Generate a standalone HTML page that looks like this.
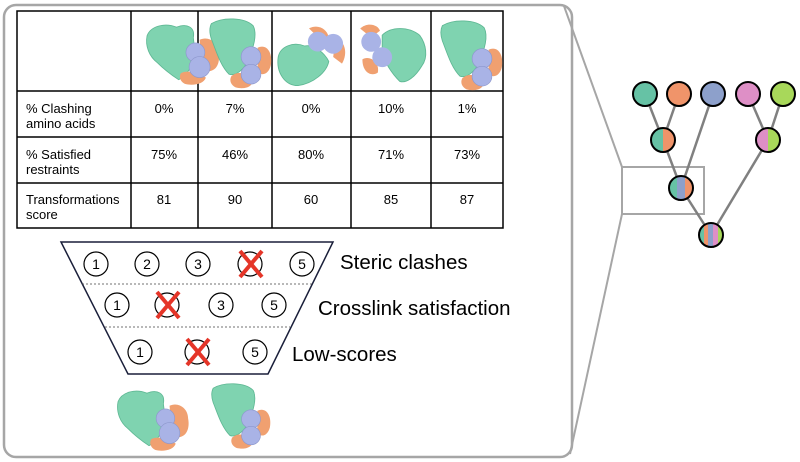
<!DOCTYPE html>
<html><head><meta charset="utf-8"><style>
html,body{margin:0;padding:0;background:#fff;}
svg{display:block;font-family:"Liberation Sans",Arial,sans-serif;}
</style></head><body>
<svg width="800" height="462" viewBox="0 0 800 462" xmlns="http://www.w3.org/2000/svg">
<defs>
<g id="pA">
 <path d="M2,12 C6,2 20,0 30,4 C40,0 48,4 46,14 L48,30 C46,40 40,50 32,54 C26,50 18,44 12,38 C4,32 0,22 2,12Z" fill="#7fd3b0" stroke="#5fb894" stroke-width="0.8"/>
 <path d="M52,16 C60,12 70,18 70,28 C72,38 68,46 60,46 L54,40Z" fill="#f0a070"/>
 <path d="M34,48 C40,44 52,48 58,52 C56,58 46,60 38,58 C34,56 32,52 34,48Z" fill="#f0a070"/>
 <circle cx="48" cy="28" r="9" fill="#a9b3e6" stroke="#8d97cc" stroke-width="0.6"/>
 <circle cx="52" cy="42" r="10" fill="#a9b3e6" stroke="#8d97cc" stroke-width="0.6"/>
</g>
<g id="pB">
 <path d="M4,6 C14,0 34,0 42,8 C46,16 42,28 38,38 C34,48 26,54 20,52 C12,44 8,30 4,20 C2,14 2,10 4,6Z" fill="#7fd3b0" stroke="#5fb894" stroke-width="0.8"/>
 <path d="M46,28 C54,24 60,32 58,44 C56,52 50,54 46,50Z" fill="#f0a070"/>
 <path d="M22,54 C28,48 38,52 42,56 C42,64 34,66 26,64 C22,62 20,58 22,54Z" fill="#f0a070"/>
 <circle cx="40" cy="36" r="9" fill="#a9b3e6" stroke="#8d97cc" stroke-width="0.6"/>
 <circle cx="40" cy="52" r="9" fill="#a9b3e6" stroke="#8d97cc" stroke-width="0.6"/>
</g>
</defs>

<rect x="4" y="5" width="568" height="452" rx="12" fill="none" stroke="#a6a6a6" stroke-width="2.5"/>
<line x1="564" y1="6" x2="622" y2="167" stroke="#a6a6a6" stroke-width="2"/>
<line x1="570" y1="454" x2="622" y2="214" stroke="#a6a6a6" stroke-width="2"/>

<g stroke="#000" stroke-width="1.5" fill="none">
 <rect x="17" y="11" width="486" height="217"/>
 <line x1="131" y1="11" x2="131" y2="228"/>
 <line x1="198" y1="11" x2="198" y2="228"/>
 <line x1="272" y1="11" x2="272" y2="228"/>
 <line x1="351" y1="11" x2="351" y2="228"/>
 <line x1="431" y1="11" x2="431" y2="228"/>
 <line x1="17" y1="91" x2="503" y2="91"/>
 <line x1="17" y1="137" x2="503" y2="137"/>
 <line x1="17" y1="183" x2="503" y2="183"/>
</g>
<use href="#pA" transform="translate(145,23) scale(1.05)"/>
<use href="#pB" transform="translate(207,17) scale(1.1)"/>
<g transform="translate(276,24) scale(1.1)">
 <path d="M2,30 C4,20 16,16 26,20 C34,18 44,26 48,34 C46,44 34,54 20,56 C8,56 0,44 2,30Z" fill="#7fd3b0" stroke="#5fb894" stroke-width="0.8"/>
 <path d="M30,4 C38,0 46,4 48,12 L40,14Z" fill="#f0a070"/>
 <path d="M54,14 C62,14 66,26 60,36 L52,30Z" fill="#f0a070"/>
 <circle cx="38" cy="16" r="9" fill="#a9b3e6"/><circle cx="52" cy="18" r="9" fill="#a9b3e6"/>
</g>
<g transform="translate(358,22) scale(1.1)">
 <path d="M22,12 C30,4 46,4 56,12 C62,20 64,32 58,40 C52,50 44,56 38,54 C30,46 24,36 22,28Z" fill="#7fd3b0" stroke="#5fb894" stroke-width="0.8"/>
 <path d="M2,6 C8,0 18,2 20,8 L12,14Z" fill="#f0a070"/>
 <path d="M4,34 C10,30 20,36 18,46 C12,50 4,46 4,34Z" fill="#f0a070"/>
 <circle cx="12" cy="18" r="9" fill="#a9b3e6"/><circle cx="22" cy="32" r="9" fill="#a9b3e6"/>
</g>
<use href="#pB" transform="translate(438,19) scale(1.1)"/>

<g font-size="13" fill="#000">
 <text x="26" y="113">% Clashing</text><text x="26" y="128">amino acids</text>
 <text x="26" y="159">% Satisfied</text><text x="26" y="174">restraints</text>
 <text x="26" y="204">Transformations</text><text x="26" y="219">score</text>
 <g text-anchor="middle">
  <text x="164" y="113">0%</text><text x="235" y="113">7%</text><text x="311" y="113">0%</text><text x="391" y="113">10%</text><text x="467" y="113">1%</text>
  <text x="164" y="159">75%</text><text x="235" y="159">46%</text><text x="311" y="159">80%</text><text x="391" y="159">71%</text><text x="467" y="159">73%</text>
  <text x="164" y="204">81</text><text x="235" y="204">90</text><text x="311" y="204">60</text><text x="391" y="204">85</text><text x="467" y="204">87</text>
 </g>
</g>

<path d="M61,242 L333,242 L268,374 L128,374 Z" fill="none" stroke="#1a1f3a" stroke-width="1.5"/>
<line x1="82" y1="284" x2="312" y2="284" stroke="#444" stroke-width="0.8" stroke-dasharray="2,2"/>
<line x1="105" y1="327" x2="290" y2="327" stroke="#444" stroke-width="0.8" stroke-dasharray="2,2"/>
<g fill="none" stroke="#000" stroke-width="1.2">
 <circle cx="96" cy="264" r="12"/><circle cx="147" cy="264" r="12"/><circle cx="198" cy="264" r="12"/><circle cx="250" cy="264" r="12"/><circle cx="302" cy="264" r="12"/>
 <circle cx="117" cy="305" r="12"/><circle cx="167" cy="305" r="12"/><circle cx="221" cy="305" r="12"/><circle cx="274" cy="305" r="12"/>
 <circle cx="140" cy="352" r="12"/><circle cx="197" cy="352" r="12"/><circle cx="255" cy="352" r="12"/>
</g>
<g font-size="14" text-anchor="middle" fill="#000">
 <text x="96" y="269">1</text><text x="147" y="269">2</text><text x="198" y="269">3</text><text x="302" y="269">5</text>
 <text x="117" y="310">1</text><text x="221" y="310">3</text><text x="274" y="310">5</text>
 <text x="140" y="357">1</text><text x="255" y="357">5</text>
</g>
<g stroke="#e53528" stroke-width="4">
 <line x1="240" y1="251" x2="262" y2="277"/><line x1="262" y1="251" x2="240" y2="277"/>
 <line x1="157" y1="292" x2="179" y2="318"/><line x1="179" y1="292" x2="157" y2="318"/>
 <line x1="187" y1="339" x2="209" y2="365"/><line x1="209" y1="339" x2="187" y2="365"/>
</g>
<g font-size="20.5" fill="#000">
 <text x="340" y="269">Steric clashes</text>
 <text x="318" y="315">Crosslink satisfaction</text>
 <text x="292" y="361">Low-scores</text>
</g>
<use href="#pA" transform="translate(116,389) scale(1.03,1.05)"/>
<use href="#pB" transform="translate(209,382) scale(1.05,1.03)"/>

<rect x="622" y="167" width="82" height="47" fill="none" stroke="#a6a6a6" stroke-width="2"/>
<g stroke="#808080" stroke-width="2.5">
 <line x1="645" y1="94" x2="663" y2="140"/><line x1="679" y1="94" x2="663" y2="140"/>
 <line x1="713" y1="94" x2="681" y2="188"/><line x1="663" y1="140" x2="681" y2="188"/>
 <line x1="748" y1="94" x2="768" y2="140"/><line x1="783" y1="94" x2="768" y2="140"/>
 <line x1="681" y1="188" x2="711" y2="235"/><line x1="768" y1="140" x2="711" y2="235"/>
</g>
<defs>
 <clipPath id="c1"><circle cx="663" cy="140" r="12"/></clipPath>
 <clipPath id="c2"><circle cx="768" cy="140" r="12"/></clipPath>
 <clipPath id="c3"><circle cx="681" cy="188" r="12"/></clipPath>
 <clipPath id="c4"><circle cx="711" cy="235" r="12"/></clipPath>
</defs>
<g stroke="#000" stroke-width="2">
 <circle cx="645" cy="94" r="12" fill="#66c2a5"/>
 <circle cx="679" cy="94" r="12" fill="#f0946a"/>
 <circle cx="713" cy="94" r="12" fill="#8da0cb"/>
 <circle cx="748" cy="94" r="12" fill="#de8fc6"/>
 <circle cx="783" cy="94" r="12" fill="#a8d85a"/>
</g>
<g clip-path="url(#c1)"><rect x="650" y="127" width="13" height="26" fill="#66c2a5"/><rect x="663" y="127" width="13" height="26" fill="#f0946a"/></g>
<g clip-path="url(#c2)"><rect x="755" y="127" width="13" height="26" fill="#de8fc6"/><rect x="768" y="127" width="13" height="26" fill="#a8d85a"/></g>
<g clip-path="url(#c3)"><rect x="668" y="175" width="9" height="26" fill="#66c2a5"/><rect x="677" y="175" width="8" height="26" fill="#8da0cb"/><rect x="685" y="175" width="9" height="26" fill="#f0946a"/></g>
<g clip-path="url(#c4)"><rect x="698" y="222" width="6" height="26" fill="#66c2a5"/><rect x="704" y="222" width="4" height="26" fill="#f0946a"/><rect x="708" y="222" width="5" height="26" fill="#8da0cb"/><rect x="713" y="222" width="5" height="26" fill="#de8fc6"/><rect x="718" y="222" width="6" height="26" fill="#a8d85a"/></g>
<g fill="none" stroke="#000" stroke-width="2">
 <circle cx="663" cy="140" r="12"/><circle cx="768" cy="140" r="12"/><circle cx="681" cy="188" r="12"/><circle cx="711" cy="235" r="12"/>
</g>
</svg>
</body></html>
